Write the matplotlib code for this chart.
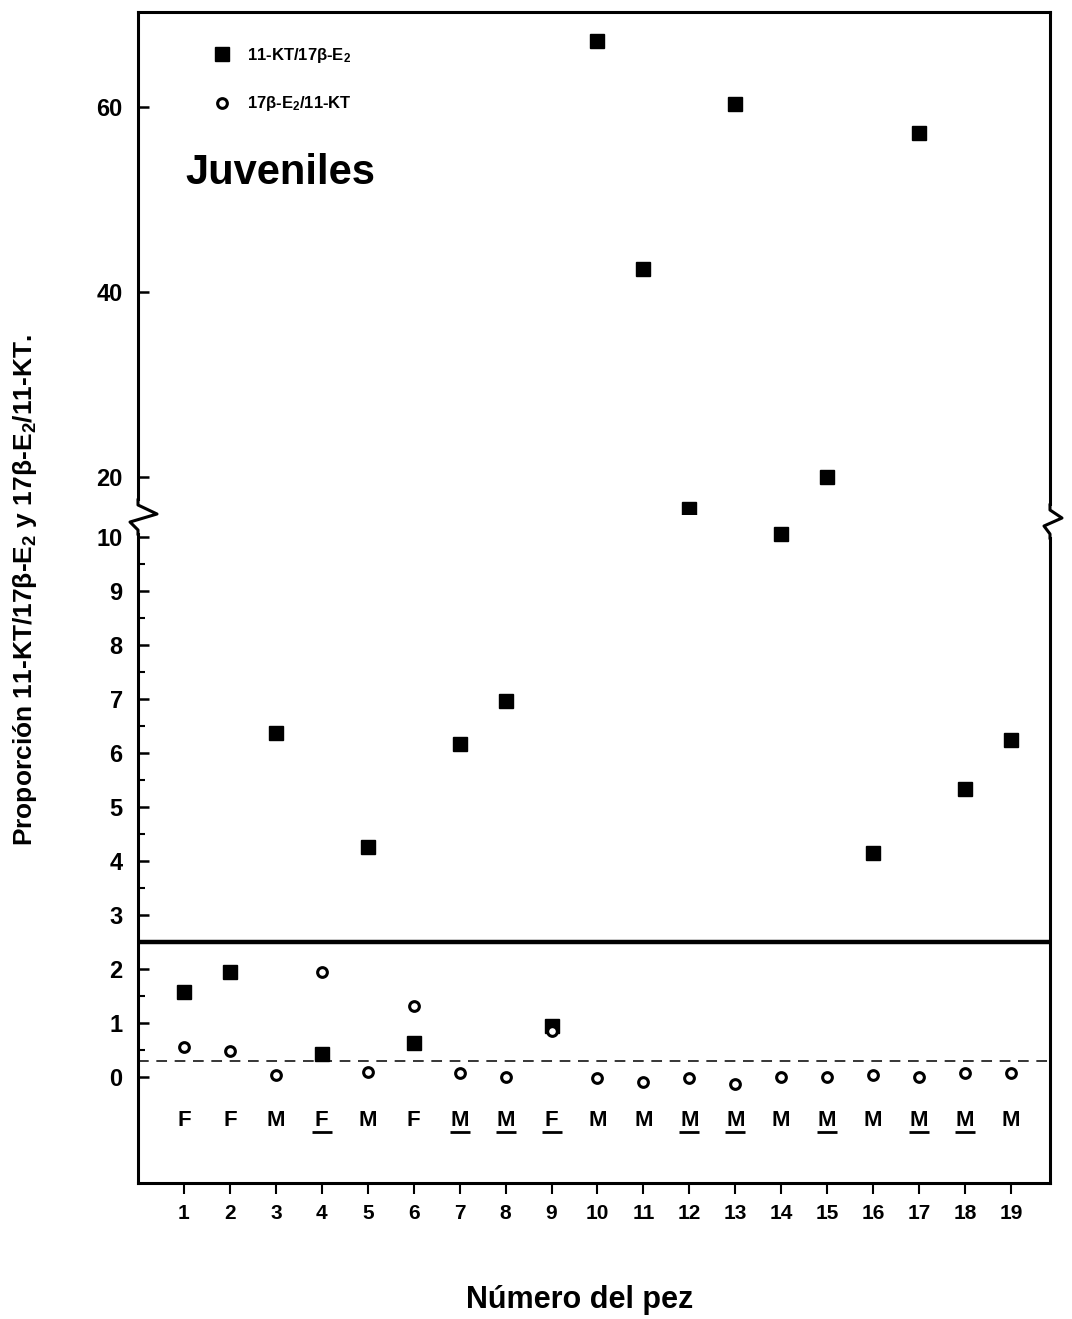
import numpy as np
import matplotlib.pyplot as plt
from matplotlib.lines import Line2D
from matplotlib.patches import Rectangle

plt.rcParams['font.family'] = ['Liberation Sans', 'DejaVu Sans']
plt.rcParams['font.weight'] = 'bold'
plt.rcParams['mathtext.fontset'] = 'custom'
plt.rcParams['mathtext.rm'] = 'Liberation Sans:bold'
plt.rcParams['mathtext.it'] = 'Liberation Sans:bold'
plt.rcParams['mathtext.bf'] = 'Liberation Sans:bold'

# data
fish = np.arange(1, 20)
kt_e2 = [1.57, 1.95, 6.37, 0.43, 4.26, 0.63, 6.17, 6.96, 0.95, 67.2,
         42.5, 16.5, 60.3, 10.05, 20.0, 4.15, 57.2, 5.33, 6.24]
e2_kt = [0.56, 0.48, 0.04, 1.95, 0.09, 1.31, 0.07, 0.0, 0.85, -0.02,
         -0.09, -0.02, -0.13, 0.0, 0.0, 0.04, 0.0, 0.07, 0.07]
sex = ['F', 'F', 'M', 'F', 'M', 'F', 'M', 'M', 'F', 'M',
       'M', 'M', 'M', 'M', 'M', 'M', 'M', 'M', 'M']
underlined = [0, 0, 0, 1, 0, 0, 1, 1, 1, 0, 0, 1, 1, 0, 1, 0, 1, 1, 0]
threshold = 0.3
sex_row = -0.8

W, H = 1072, 1319
fig = plt.figure(figsize=(W / 100, H / 100), dpi=100)

def fx(px):
    return px / W

def fy(py):
    return 1 - py / H

left, right = fx(138), fx(1050)
ax_top = fig.add_axes([left, fy(515), right - left, fy(12) - fy(515)])
ax_bot = fig.add_axes([left, fy(1183), right - left, fy(515) - fy(1183)])

kt_e2 = np.array(kt_e2)
e2_kt = np.array(e2_kt)
underlined = np.array(underlined, dtype=bool)

sq = dict(marker='s', linestyle='none', color='black', markersize=10, clip_on=False)
ci = dict(marker='o', linestyle='none', markerfacecolor='white', markeredgecolor='black',
          markersize=7, markeredgewidth=2.2, clip_on=False)

hi = kt_e2 > 15
ax_top.plot(fish[hi], kt_e2[hi], label='11-KT/17β-E$_2$', **sq)
ax_top.plot([], [], label='17β-E$_2$/11-KT', **ci)
ax_bot.plot(fish[~hi], kt_e2[~hi], zorder=4, **sq)
ax_bot.plot(fish, e2_kt, zorder=5, **ci)

ax_bot.axhline(threshold, color='black', lw=1.1, dashes=(7, 5), zorder=2)
ax_bot.axhline(2.5, color='black', lw=3.2, zorder=3)

for x, s in zip(fish, sex):
    ax_bot.text(x, sex_row, s, ha='center', va='center', fontsize=16, fontweight='bold')
# underline marks under some letters
ax_bot.plot(fish[underlined], np.full(underlined.sum(), sex_row - 0.21), marker='_',
            linestyle='none', color='black', markersize=14, markeredgewidth=2)

ax_top.set_xlim(0, 19.85)
ax_bot.set_xlim(0, 19.85)
ax_top.set_ylim(15.9, 70.3)
ax_bot.set_ylim(-1.96, 10.41)

ax_top.set_yticks([20, 40, 60])
ax_bot.set_yticks(range(0, 11))
ax_bot.set_yticks(np.arange(0.5, 10, 1), minor=True)
ax_top.set_xticks([])
ax_bot.set_xticks(fish)

for ax in (ax_top, ax_bot):
    ax.tick_params(axis='y', direction='in', length=8, width=1.8, pad=11, labelsize=17)
    ax.tick_params(axis='y', which='minor', direction='in', length=5, width=1.5)
    for sp in ax.spines.values():
        sp.set_linewidth(2.2)
ax_bot.tick_params(axis='x', direction='out', length=8, width=1.5, pad=7, labelsize=15)
ax_top.spines['bottom'].set_visible(False)
ax_bot.spines['top'].set_visible(False)

ax_top.legend(loc='upper left', bbox_to_anchor=(0.066, 0.945), frameon=False, fontsize=12,
              labelspacing=1.75, handletextpad=0.5, borderaxespad=0)
ax_top.text(0.052, 0.68, 'Juveniles', transform=ax_top.transAxes, fontsize=30,
            fontweight='bold', va='center')

# axis break zigzags
def zigzag(pts, cover):
    fig.patches.append(Rectangle((fx(cover[0]), fy(cover[3])), fx(cover[2] - cover[0]),
                                 fy(cover[1]) - fy(cover[3]), transform=fig.transFigure,
                                 facecolor='white', edgecolor='none', zorder=10))
    fig.lines.append(Line2D([fx(p[0]) for p in pts], [fy(p[1]) for p in pts],
                            transform=fig.transFigure, color='black', lw=2.2, zorder=11))

zigzag([(138, 500), (138, 505), (157, 514), (130, 522), (138, 530), (138, 534)],
       (128, 501, 160, 533))
zigzag([(1050, 505), (1050, 510), (1062, 518), (1044, 526), (1050, 534), (1050, 538)],
       (1040, 506, 1066, 537))

fig.text(fx(25), fy(590), 'Proporción 11-KT/17β-E$_2$ y 17β-E$_2$/11-KT.', rotation=90,
         ha='center', va='center', fontsize=19, fontweight='bold')
fig.text(fx(580), fy(1300), 'Número del pez', ha='center', va='center', fontsize=22,
         fontweight='bold')

fig.savefig('out.png', dpi=100)
